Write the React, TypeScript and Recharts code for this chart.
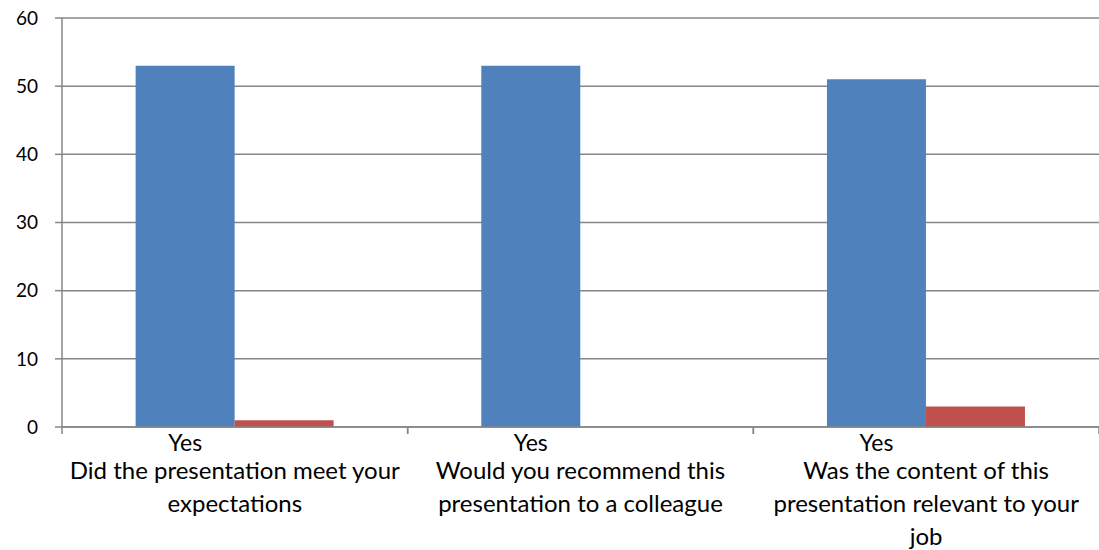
import React from 'react';
import { BarChart, Bar, XAxis, YAxis, CartesianGrid, LabelList } from 'recharts';

const categories = [
  'Did the presentation meet your\nexpectations',
  'Would you recommend this\npresentation to a colleague',
  'Was the content of this\npresentation relevant to your\njob',
];
const yesValues = [53, 53, 51];
const noValues = [1, 0, 3];
const yTicks = [0, 10, 20, 30, 40, 50, 60];
const subLabel = 'Yes';

const data = categories.map((name, i) => ({ name, yes: yesValues[i], no: noValues[i] }));

const FONT = 'Lato, "Open Sans", sans-serif';
const AXIS = '#868686';

function CategoryTick(props: any) {
  const { x, y, payload } = props;
  const half = payload?.offset ?? 173;
  const lines = String(payload.value).split('\n');
  return (
    <g>
      <line x1={x - half} y1={y} x2={x - half} y2={y + 7} stroke={AXIS} strokeWidth={1.5} />
      <line x1={x + half} y1={y} x2={x + half} y2={y + 7} stroke={AXIS} strokeWidth={1.5} />
      <text textAnchor="middle" fontFamily={FONT} fontSize={24} fill="#000">
        {lines.map((l, i) => (
          <tspan key={i} x={x} y={y + 52 + i * 33}>{l}</tspan>
        ))}
      </text>
    </g>
  );
}

function YesLabel(props: any) {
  const { x, y, width, height } = props;
  return (
    <text x={x + width / 2} y={y + height + 24} textAnchor="middle" fontFamily={FONT} fontSize={23} fill="#000">
      {subLabel}
    </text>
  );
}

export default function App() {
  return (
    <div style={{ position: 'absolute', left: 0, top: 0, background: '#fff' }}>
      <BarChart
        width={1099}
        height={550}
        data={data}
        margin={{ top: 18, right: 0, bottom: 0, left: 0 }}
        barCategoryGap="21.3%"
        barGap={0}
      >
        <CartesianGrid vertical={false} stroke={AXIS} strokeWidth={1.5} />
        <XAxis
          dataKey="name"
          height={123}
          axisLine={{ stroke: AXIS, strokeWidth: 1.5 }}
          tickLine={false}
          tickSize={0}
          tickMargin={0}
          interval={0}
          tick={<CategoryTick />}
        />
        <YAxis
          width={62}
          domain={[0, 60]}
          ticks={yTicks}
          axisLine={{ stroke: AXIS, strokeWidth: 1.5 }}
          tickLine={{ stroke: AXIS, strokeWidth: 1.5 }}
          tickSize={7}
          tickMargin={17}
          tick={{ fontFamily: FONT, fontSize: 19, fill: '#000' }}
        />
        <Bar dataKey="yes" fill="#4F81BD" isAnimationActive={false}>
          <LabelList dataKey="yes" content={<YesLabel />} />
        </Bar>
        <Bar dataKey="no" fill="#C0504D" isAnimationActive={false} />
      </BarChart>
    </div>
  );
}
